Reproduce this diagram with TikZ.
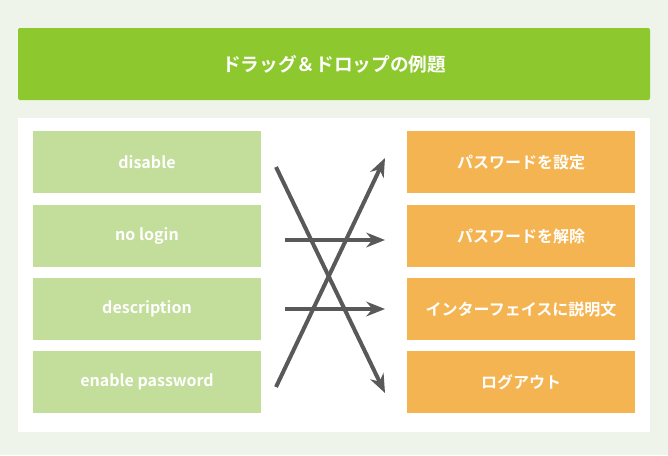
\documentclass[tikz,border=0pt]{standalone}
\usepackage{fontspec}
\setmainfont{Noto Sans CJK JP}[BoldFont={Noto Sans CJK JP Bold}]
\usetikzlibrary{arrows.meta}
\definecolor{bg}{HTML}{EEF4E9}
\definecolor{title}{HTML}{8CC82E}
\definecolor{lbox}{HTML}{C3DD9A}
\definecolor{rbox}{HTML}{F5B452}
\definecolor{arr}{HTML}{595959}
\begin{document}
\begin{tikzpicture}[x=0.75pt,y=-0.75pt,
  lab/.style={minimum width=171pt,minimum height=46.5pt,inner sep=0pt,text=white,font=\bfseries\fontsize{12}{14}\selectfont},
  lft/.style={lab,fill=lbox},
  rgt/.style={lab,fill=rbox},
  conn/.style={draw=arr,line width=3pt,-{Stealth[length=14pt,width=11pt]}}]
\fill[bg] (0,0) rectangle (668,455);
\useasboundingbox (0,0) rectangle (668,455);
\node[fill=title,minimum width=474pt,minimum height=54pt,inner sep=0pt,rounded corners=1.5pt,text=white,font=\bfseries\fontsize{14}{16}\selectfont] (t) at (334,64) {ドラッグ＆ドロップの例題};
\fill[white] (18,118) rectangle (650,432);
\node[lft] (l1) at (147,162) {disable};
\node[lft] (l2) at (147,236) {no login};
\node[lft] (l3) at (147,309) {description};
\node[lft] (l4) at (147,382) {enable password};
\node[rgt] (r1) at (521,162) {パスワードを設定};
\node[rgt] (r2) at (521,236) {パスワードを解除};
\node[rgt] (r3) at (521,309) {インターフェイスに説明文};
\node[rgt] (r4) at (521,382) {ログアウト};
\coordinate (a1s) at (276,167); \coordinate (a1e) at (385,393);
\coordinate (a2s) at (285,240); \coordinate (a2e) at (385,240);
\coordinate (a3s) at (285,309); \coordinate (a3e) at (385,309);
\coordinate (a4s) at (276,387); \coordinate (a4e) at (385,158);
\draw[conn] (a1s) -- (a1e);
\draw[conn] (a2s) -- (a2e);
\draw[conn] (a3s) -- (a3e);
\draw[conn] (a4s) -- (a4e);
\end{tikzpicture}
\end{document}
